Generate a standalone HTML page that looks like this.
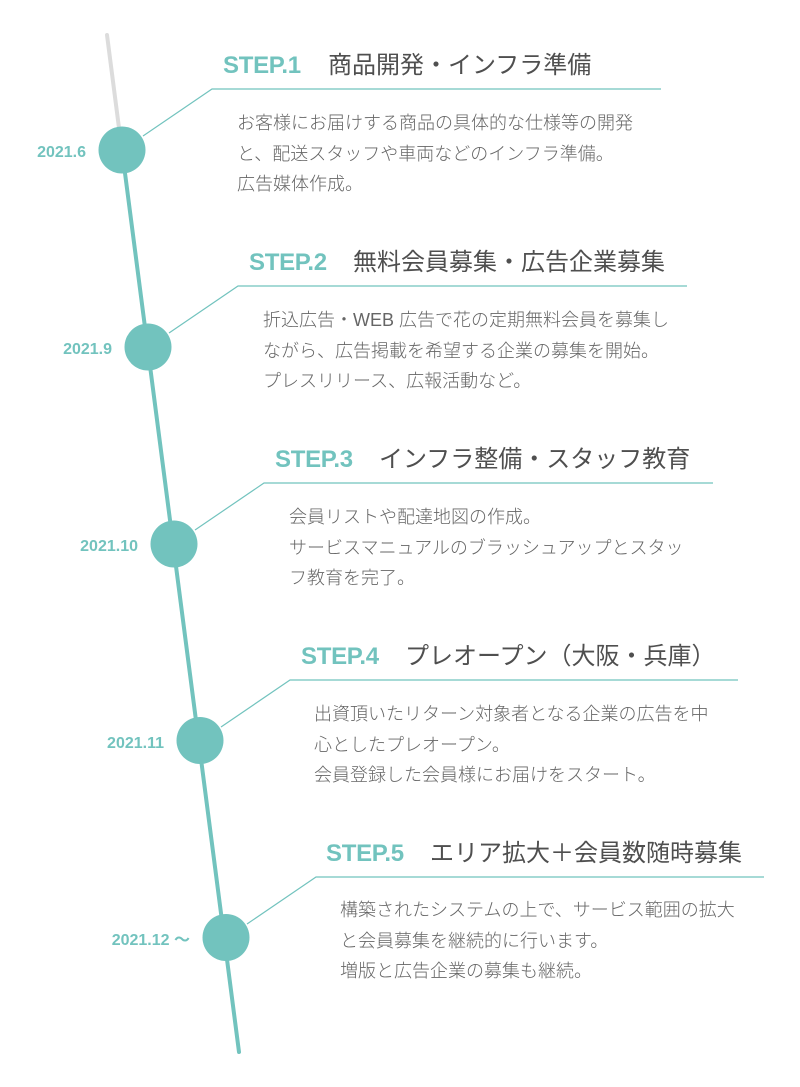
<!DOCTYPE html>
<html>
<head>
<meta charset="utf-8">
<style>
  html,body{margin:0;padding:0;background:#fff;}
  body{width:800px;height:1087px;position:relative;overflow:hidden;}
  svg{position:absolute;left:0;top:0;}
  .step{position:absolute;font-family:"Liberation Sans",sans-serif;font-weight:bold;font-size:24px;letter-spacing:-0.3px;color:#72c3be;line-height:36px;white-space:nowrap;}
  .title{position:absolute;font-family:"Liberation Sans","Noto Sans CJK JP",sans-serif;font-size:24px;color:#4f4f4f;line-height:36px;white-space:nowrap;}
  .body{position:absolute;font-family:"Liberation Sans","Noto Sans CJK JP",sans-serif;font-weight:300;font-size:18px;color:#666;line-height:30.5px;white-space:nowrap;}
  .date{position:absolute;width:120px;text-align:right;font-family:"Liberation Sans","Noto Sans CJK JP",sans-serif;font-weight:bold;font-size:16px;color:#72c3be;line-height:20px;white-space:nowrap;}
</style>
</head>
<body>
<svg width="800" height="1087" viewBox="0 0 800 1087">
  <line x1="107" y1="35" x2="119" y2="128" stroke="#dcdcdc" stroke-width="4" stroke-linecap="round"/>
  <line x1="122" y1="150" x2="239" y2="1052" stroke="#72c3be" stroke-width="4" stroke-linecap="round"/>
  <g stroke="#72c3be" stroke-width="1.2" fill="none">
    <polyline points="143,136 212,89 661,89"/>
    <polyline points="169,333 238,286 687,286"/>
    <polyline points="195,530 264,483 713,483"/>
    <polyline points="221,727 290,680 738,680"/>
    <polyline points="247,924 316,877 764,877"/>
  </g>
  <g fill="#72c3be">
    <circle cx="122" cy="150" r="23.5"/>
    <circle cx="148" cy="347" r="23.5"/>
    <circle cx="174" cy="544" r="23.5"/>
    <circle cx="200" cy="740.5" r="23.5"/>
    <circle cx="226" cy="937.5" r="23.5"/>
  </g>
</svg>

<div class="step" style="left:223px;top:48px;">STEP.1</div>
<div class="title" style="left:328px;top:48px;">商品開発・インフラ準備</div>
<div class="body" style="left:237px;top:108px;">お客様にお届けする商品の具体的な仕様等の開発<br>と、配送スタッフや車両などのインフラ準備。<br>広告媒体作成。</div>
<div class="date" style="left:-34px;top:143px;">2021.6</div>

<div class="step" style="left:249px;top:245px;">STEP.2</div>
<div class="title" style="left:353px;top:245px;">無料会員募集・広告企業募集</div>
<div class="body" style="left:263px;top:305px;">折込広告・WEB 広告で花の定期無料会員を募集し<br>ながら、広告掲載を希望する企業の募集を開始。<br>プレスリリース、広報活動など。</div>
<div class="date" style="left:-8px;top:340px;">2021.9</div>

<div class="step" style="left:275px;top:442px;">STEP.3</div>
<div class="title" style="left:379px;top:442px;">インフラ整備・スタッフ教育</div>
<div class="body" style="left:289px;top:502px;">会員リストや配達地図の作成。<br>サービスマニュアルのブラッシュアップとスタッ<br>フ教育を完了。</div>
<div class="date" style="left:18px;top:537px;">2021.10</div>

<div class="step" style="left:301px;top:639px;">STEP.4</div>
<div class="title" style="left:405px;top:639px;">プレオープン（大阪・兵庫）</div>
<div class="body" style="left:314px;top:699px;">出資頂いたリターン対象者となる企業の広告を中<br>心としたプレオープン。<br>会員登録した会員様にお届けをスタート。</div>
<div class="date" style="left:44px;top:734px;">2021.11</div>

<div class="step" style="left:326px;top:836px;">STEP.5</div>
<div class="title" style="left:430px;top:836px;">エリア拡大＋会員数随時募集</div>
<div class="body" style="left:340px;top:895px;">構築されたシステムの上で、サービス範囲の拡大<br>と会員募集を継続的に行います。<br>増版と広告企業の募集も継続。</div>
<div class="date" style="left:70px;top:931px;">2021.12 ～</div>
</body>
</html>
